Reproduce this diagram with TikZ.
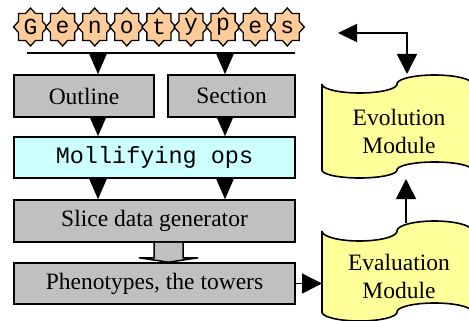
\documentclass[tikz,border=0pt]{standalone}
\usepackage{fontspec}
\setmainfont{Liberation Serif}
\newfontfamily\courfont{Liberation Mono}
\usetikzlibrary{arrows.meta,calc}
\definecolor{peach}{HTML}{FFCC99}
\definecolor{boxgray}{HTML}{C0C0C0}
\definecolor{cyanbox}{HTML}{CCFFFF}
\definecolor{tapeyellow}{HTML}{FFFF99}
\begin{document}
\begin{tikzpicture}[x=1pt,y=-1pt,
  box/.style={draw, line width=1.6pt, fill=boxgray, inner sep=0pt,
    minimum height=42pt, font=\fontsize{23.5}{28}\selectfont},
  courbox/.style={box, fill=cyanbox, font=\courfont\fontsize{23.5}{28}\selectfont},
  gstar/.style={draw, line width=1.3pt, fill=peach, line join=miter},
  gletter/.style={inner sep=0pt, font=\courfont\fontsize{23}{23}\selectfont},
  tape/.style={draw, line width=1.6pt, fill=tapeyellow},
  tapetext/.style={align=center, inner sep=0pt, font=\fontsize{23.5}{28}\selectfont},
  tri/.style={line width=1.5pt, -{Triangle[width=17pt,length=20pt]}},
  bigtri/.style={line width=1.5pt, -{Triangle[width=20pt,length=20pt]}},
  bothtri/.style={line width=1.5pt, {Triangle[width=18pt,length=19pt]}-{Triangle[width=20pt,length=20pt]}},
  fatarrow/.style={draw, line width=1.5pt, fill=boxgray, line join=miter}
]
\useasboundingbox (0,0) rectangle (469,321);

% Genotypes stars
\foreach \i/\ch in {1/G,2/e,3/n,4/o,5/t,6/y,7/p,8/e,9/s}{
  \pgfmathsetmacro\cx{30.5+32.1*(\i-1)}
  \draw[gstar] plot[samples at={0,...,15}]
    ({\cx+17*(1-0.235*mod(\x,2))*cos(\x*22.5)},{27+19*(1-0.235*mod(\x,2))*sin(\x*22.5)}) -- cycle;
  \node[gletter] (g\i) at (\cx,27) {\ch};
}

% bar under genotypes
\coordinate (barL) at (27,53);
\coordinate (barR) at (295,53);
\draw[line width=1.5pt] (barL) -- (barR);
\coordinate (b1) at (98,53);
\coordinate (b2) at (225,53);

% boxes
\node[box, minimum width=140pt] (outline) at (84,96) {Outline};
\node[box, minimum width=127pt] (section) at (231.5,96) {Section};
\node[courbox, minimum width=281pt, minimum height=41pt] (moll) at (154.5,157.5) {Mollifying ops};
\node[box, minimum width=281pt] (slice) at (154.5,221) {Slice data generator};
\node[box, minimum width=281pt, minimum height=41pt] (pheno) at (154.5,283.5) {Phenotypes, the towers};

% arrows between boxes
\draw[tri] (b1) -- (b1 |- outline.north);
\draw[tri] (b2) -- (b2 |- section.north);
\draw[tri] (b1 |- outline.south) -- (b1 |- moll.north);
\draw[tri] (b2 |- section.south) -- (b2 |- moll.north);
\draw[tri] (b1 |- moll.south) -- (b1 |- slice.north);
\draw[tri] (b2 |- moll.south) -- (b2 |- slice.north);

% fat hollow arrow
\coordinate (fa) at ($(slice.south)+(14,0)$);
\draw[fatarrow] ($(fa)+(-14.5,0)$) -- ++(0,15) -- ++(-15,0) -- ($(fa |- pheno.north)$) -- ($(fa)+(29.5,15)$) -- ++(-15,0) -- ($(fa)+(14.5,0)$);

% tape shapes
\begin{scope}
\clip (0,0) rectangle (469,321);
\filldraw[tape] plot[domain=180:360,samples=40] ({359.5+37.5*cos(\x)},{84-9*sin(\x)})
  -- plot[domain=180:360,samples=40] ({434.5+37.5*cos(\x)},{84+9*sin(\x)})
  -- (472,170)
  -- plot[domain=0:180,samples=40] ({434.5+37.5*cos(\x)},{170-8*sin(\x)})
  -- plot[domain=0:180,samples=40] ({359.5+37.5*cos(\x)},{170+8*sin(\x)})
  -- cycle;
\filldraw[tape] plot[domain=180:360,samples=40] ({359.5+37.5*cos(\x)},{231-10*sin(\x)})
  -- plot[domain=180:360,samples=40] ({434.5+37.5*cos(\x)},{231+10*sin(\x)})
  -- (472,312)
  -- plot[domain=0:180,samples=40] ({434.5+37.5*cos(\x)},{312-9*sin(\x)})
  -- plot[domain=0:180,samples=40] ({359.5+37.5*cos(\x)},{312+9*sin(\x)})
  -- cycle;
\end{scope}
\node[tapetext] (evo) at (399,131) {Evolution\\Module};
\node[tapetext] (eval) at (399,276) {Evaluation\\Module};

% connectors to / between modules
\coordinate (evalL) at (322,283.5);
\coordinate (evaltop) at (406,223);
\coordinate (evobot) at (406,179);
\coordinate (evotop) at (407,74);
\coordinate (fb) at (338,33);
\draw[bigtri] (pheno.east) -- (evalL);
\draw[bigtri] (evaltop) -- (evobot);
\draw[bothtri] (fb) -| (evotop);
\end{tikzpicture}
\end{document}
